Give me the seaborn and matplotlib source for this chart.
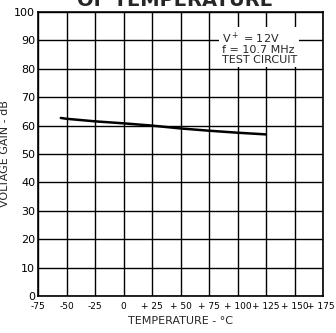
import matplotlib
matplotlib.use("Agg")
import matplotlib.pyplot as plt
import matplotlib.transforms as mtransforms
import seaborn as sns
import pandas as pd

temps = [-55, -50, -25, 0, 25, 50, 75, 100, 125]
gain = [62.7, 62.4, 61.5, 60.8, 60.0, 59.0, 58.2, 57.5, 56.9]
xticks = [-75, -50, -25, 0, 25, 50, 75, 100, 125, 150, 175]
xlabels = ["-75", "-50", "-25", "0", "+ 25", "+ 50", "+ 75", "+ 100", "+ 125", "+ 150", "+ 175"]
yticks = [0, 10, 20, 30, 40, 50, 60, 70, 80, 90, 100]

sns.set_style("white")
plt.rcParams['font.family'] = ['DejaVu Sans']

fig = plt.figure(figsize=(3.36, 3.33), dpi=100)
ax = fig.add_axes([38/336, 1-296/333, 285/336, 284/333])

df = pd.DataFrame({"t": temps, "g": gain})
sns.lineplot(data=df, x="t", y="g", ax=ax, color="black", linewidth=1.8)

ax.set_xlim(-75, 175)
ax.set_ylim(0, 100)
ax.set_xticks(xticks)
ax.set_xticklabels(xlabels)
ax.set_yticks(yticks)
ax.grid(True, color="black", linewidth=1.0)
ax.set_axisbelow(True)
for s in ax.spines.values():
    s.set_color("black")
    s.set_linewidth(1.2)
ax.tick_params(axis="y", length=0, pad=2, labelsize=8, colors="black")
ax.tick_params(axis="x", length=0, pad=4, labelsize=6.5, colors="black")
ax.set_xlabel("TEMPERATURE - °C", fontsize=8, labelpad=4)
ax.set_ylabel("VOLTAGE GAIN - dB", fontsize=8, labelpad=3)

last = ax.get_xticklabels()[-1]
last.set_horizontalalignment("right")
last.set_transform(last.get_transform() +
                   mtransforms.ScaledTranslation(0.12, 0, fig.dpi_scale_trans))

ax.text(86, 93.5, "V$^+$ = 12V\nf = 10.7 MHz\nTEST CIRCUIT", fontsize=8,
        va="top", ha="left", linespacing=0.95,
        bbox=dict(facecolor="white", edgecolor="none", pad=1.5))

fig.text(0.52, 1.0, "OF TEMPERATURE", fontsize=14, fontweight="bold",
         ha="center", va="center")

fig.savefig("out.png", dpi=100)
